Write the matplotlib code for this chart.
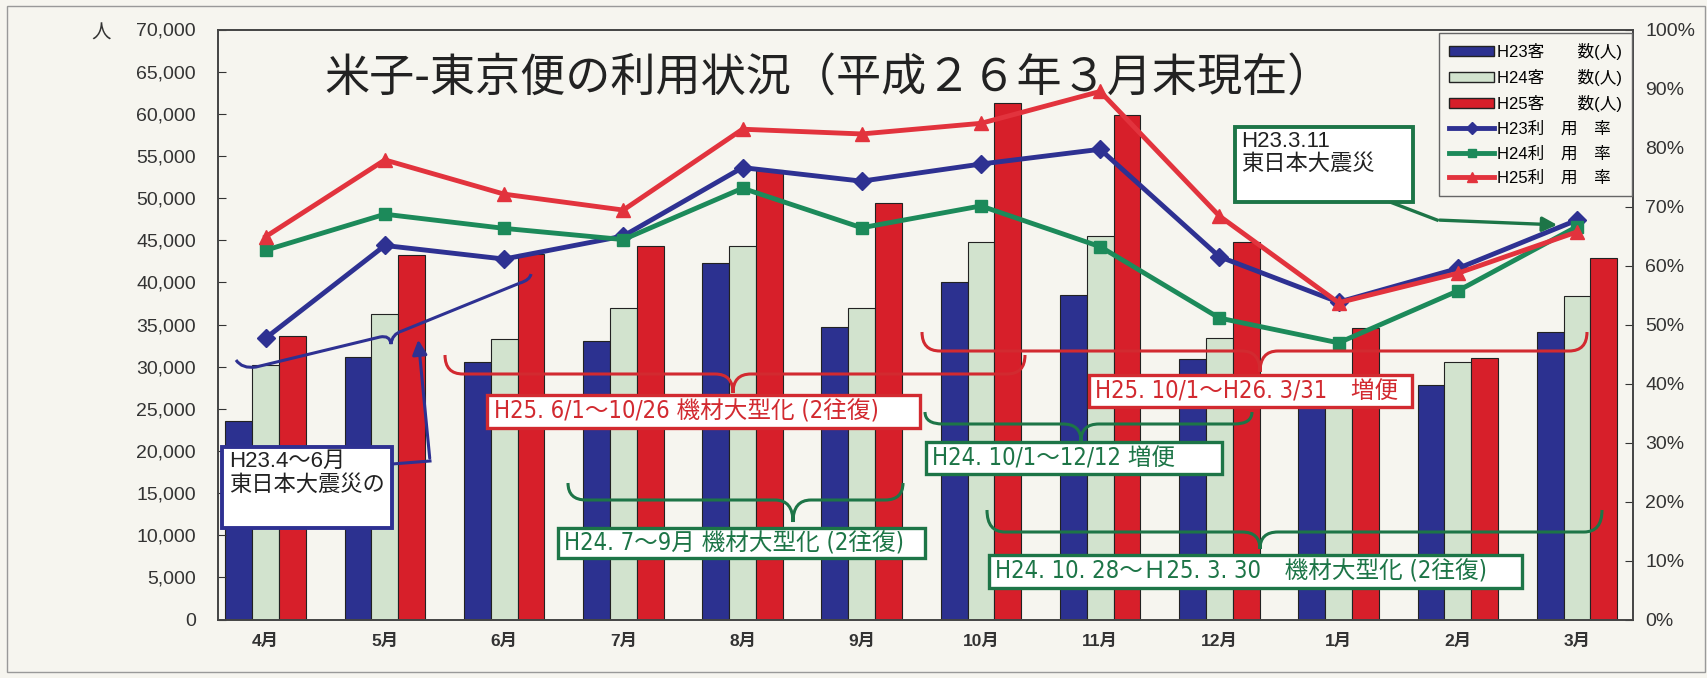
import numpy as np
import matplotlib
matplotlib.use("Agg")
import matplotlib.pyplot as plt
from matplotlib import font_manager
from matplotlib.patches import Rectangle, PathPatch, Patch, FancyArrowPatch
from matplotlib.path import Path
from matplotlib.lines import Line2D
from matplotlib.ticker import FuncFormatter, MultipleLocator

months = ["4月", "5月", "6月", "7月", "8月", "9月", "10月", "11月", "12月", "1月", "2月", "3月"]

# passengers (people)
h23_pax = [23500, 31100, 30600, 33100, 42300, 34750, 40000, 38500, 30900, 26500, 27800, 34150]
h24_pax = [30200, 36250, 33300, 37000, 44300, 37000, 44750, 45550, 33450, 29000, 30600, 38400]
h25_pax = [33600, 43250, 43400, 44350, 53300, 49400, 61300, 59900, 44750, 34550, 31000, 42950]

# load factor (%)
h23_rate = [47.7, 63.4, 61.1, 65.0, 76.6, 74.3, 77.2, 79.7, 61.5, 53.8, 59.5, 67.7]
h24_rate = [62.6, 68.7, 66.3, 64.4, 73.1, 66.4, 70.1, 63.2, 51.1, 46.9, 55.7, 66.6]
h25_rate = [64.9, 77.9, 72.1, 69.4, 83.1, 82.3, 84.1, 89.5, 68.4, 53.7, 58.7, 65.7]

title = "米子-東京便の利用状況（平成２６年３月末現在）"

PAPER = "#f6f5ef"
BAR23, BAR24, BAR25 = "#2c3190", "#d2e3ce", "#d71f2a"
LINE23, LINE24, LINE25 = "#2e3192", "#1c8a5a", "#e2333d"
RED_TXT, GREEN_TXT, NAVY = "#d22a30", "#1d7547", "#2e3192"

plt.rcParams["font.family"] = ["Liberation Sans", "Noto Sans CJK JP"]
CJK = ["Noto Sans CJK JP"]

# condensed latin for the period notes, if the condensed DejaVu face is there
has_cond = any(f.name == "DejaVu Sans" and f.stretch == "condensed"
               for f in font_manager.fontManager.ttflist)
NOTE = dict(family=["DejaVu Sans", "Noto Sans CJK JP"], fontstretch="condensed",
            fontsize=17 if has_cond else 15.5)

W, H = 1708, 678


def fxy(px, py):
    return (px / W, 1 - py / H)


fig = plt.figure(figsize=(W / 100, H / 100), dpi=100, facecolor=PAPER)
ax = fig.add_axes([218 / W, 1 - 619.6 / H, (1633 - 218) / W, (619.6 - 29.5) / H])
ax.set_facecolor(PAPER)
ax2 = ax.twinx()

x = np.arange(len(months))
bw = 0.225
ax.bar(x - bw, h23_pax, bw, color=BAR23, edgecolor="#222", lw=0.8)
ax.bar(x, h24_pax, bw, color=BAR24, edgecolor="#222", lw=0.8)
ax.bar(x + bw, h25_pax, bw, color=BAR25, edgecolor="#222", lw=0.8)
ax.set_xlim(-0.4, 11.47)
ax.set_ylim(0, 70000)
ax.yaxis.set_major_locator(MultipleLocator(5000))
ax.yaxis.set_major_formatter(FuncFormatter(lambda v, p: f"{int(v):,}"))
ax.set_xticks(x, months)
ax.tick_params(axis="x", length=0, pad=10, labelsize=12.5, colors="#333")
for t in ax.get_xticklabels():
    t.set_fontweight("bold")
ax.tick_params(axis="y", direction="in", length=6, pad=16, labelsize=14, colors="#333")

ax2.plot(x, h23_rate, color=LINE23, lw=3.5, marker="D", ms=9)
ax2.plot(x, h24_rate, color=LINE24, lw=3.5, marker="s", ms=9)
ax2.plot(x, h25_rate, color=LINE25, lw=3.5, marker="^", ms=10)
ax2.set_ylim(0, 100)
ax2.yaxis.set_major_locator(MultipleLocator(10))
ax2.yaxis.set_major_formatter(FuncFormatter(lambda v, p: f"{int(v)}%"))
ax2.tick_params(axis="y", direction="in", length=6, pad=9, labelsize=14, colors="#333")
for a in (ax, ax2):
    for s in a.spines.values():
        s.set_color("#444")
        s.set_linewidth(1.2)

handles = [
    Patch(facecolor=BAR23, edgecolor="#222"),
    Patch(facecolor=BAR24, edgecolor="#222"),
    Patch(facecolor=BAR25, edgecolor="#222"),
    Line2D([], [], color=LINE23, lw=3.5, marker="D", ms=6),
    Line2D([], [], color=LINE24, lw=3.5, marker="s", ms=6),
    Line2D([], [], color=LINE25, lw=3.5, marker="^", ms=7),
]
labels = ["H23客　　数(人)", "H24客　　数(人)", "H25客　　数(人)",
          "H23利　用　率", "H24利　用　率", "H25利　用　率"]
leg = ax2.legend(handles, labels, loc="upper right", bbox_to_anchor=fxy(1632, 33),
                 bbox_transform=fig.transFigure, borderaxespad=0, fancybox=False,
                 framealpha=1, edgecolor="#666", facecolor=PAPER, fontsize=12,
                 handlelength=2.7, handleheight=0.55, handletextpad=0.15,
                 labelspacing=0.55, borderpad=0.6)
leg.get_frame().set_linewidth(1.0)

fig.text(*fxy(829, 78), title, ha="center", va="center", fontsize=32.5, family=CJK, color="#222")
fig.text(*fxy(101, 33), "人", ha="center", va="center", fontsize=14, family=CJK, color="#333")


def box(x0, y0, x1, y1, color, lw=2.4):
    fig.add_artist(Rectangle(fxy(x0, y1), (x1 - x0) / W, (y1 - y0) / H, transform=fig.transFigure,
                             facecolor="white", edgecolor=color, lw=lw, zorder=4))


def brace(p0, p1, tip_u, depth, hook, color, r=18, lw=2.2):
    p0, p1 = np.array(p0, float), np.array(p1, float)
    L = np.linalg.norm(p1 - p0)
    d = (p1 - p0) / L
    n = np.array([-d[1], d[0]])
    local = [(0, -hook), (0, 0), (r, 0), (tip_u - r, 0), (tip_u, 0), (tip_u, depth),
             (tip_u, 0), (tip_u + r, 0), (L - r, 0), (L, 0), (L, -hook)]
    codes = [Path.MOVETO, Path.CURVE3, Path.CURVE3, Path.LINETO, Path.CURVE3, Path.CURVE3,
             Path.CURVE3, Path.CURVE3, Path.LINETO, Path.CURVE3, Path.CURVE3]
    verts = [fxy(*(p0 + u * d + v * n)) for u, v in local]
    fig.add_artist(PathPatch(Path(verts, codes), fill=False, edgecolor=color, lw=lw,
                             transform=fig.transFigure, zorder=3))


def pline(pts, color, lw=2.2):
    fpts = [fxy(*p) for p in pts]
    xs, ys = zip(*fpts[:-1])
    fig.add_artist(Line2D(xs, ys, color=color, lw=lw, transform=fig.transFigure, zorder=3))
    fig.add_artist(FancyArrowPatch(fpts[-2], fpts[-1], arrowstyle="-|>", mutation_scale=22,
                                   color=color, lw=lw, transform=fig.transFigure, zorder=3))


def note(px, py, s, color):
    fig.text(*fxy(px, py), s, color=color, va="center", zorder=5, **NOTE)


# red braces / boxes
brace((445, 374), (1025, 374), 288, 19, 19, RED_TXT)
brace((922, 351), (1587, 351), 338, 21, 19, RED_TXT)
box(487, 395, 920, 428, RED_TXT)
note(494, 412, "H25. 6/1～10/26 機材大型化 (2往復)", RED_TXT)
box(1089, 375, 1412, 407, RED_TXT)
note(1095, 391.5, "H25. 10/1～H26. 3/31　増便", RED_TXT)

# green braces / boxes
brace((925, 424), (1252, 424), 156, 17, 12, GREEN_TXT)
brace((568, 500), (903, 500), 225, 22, 17, GREEN_TXT)
brace((987, 532), (1602, 532), 273, 17, 22, GREEN_TXT)
box(926, 442, 1222, 474, GREEN_TXT)
note(932, 458.5, "H24. 10/1～12/12 増便", GREEN_TXT)
box(558, 528, 925, 558, GREEN_TXT)
note(564, 543.5, "H24. 7～9月 機材大型化 (2往復)", GREEN_TXT)
box(989, 555, 1522, 588, GREEN_TXT)
note(995, 572, "H24. 10. 28～Ｈ25. 3. 30　機材大型化 (2往復)", GREEN_TXT)

# blue (earthquake, H23.4-6)
blue_path = Path([fxy(236, 360), fxy(242, 369), fxy(256, 367), fxy(380, 337), fxy(390, 335),
                  fxy(391, 344), fxy(392, 334), fxy(402, 331), fxy(520, 283), fxy(530, 280),
                  fxy(531, 274)],
                 [Path.MOVETO, Path.CURVE3, Path.CURVE3, Path.LINETO, Path.CURVE3, Path.CURVE3,
                  Path.CURVE3, Path.CURVE3, Path.LINETO, Path.CURVE3, Path.CURVE3])
fig.add_artist(PathPatch(blue_path, fill=False, edgecolor=NAVY, lw=2.2, transform=fig.transFigure, zorder=3))
box(222, 447, 392, 528, NAVY, lw=2.8)
fig.text(*fxy(229, 451), "H23.4～6月\n東日本大震災の", fontsize=16, color="#222", va="top",
         linespacing=1.15, zorder=5)
pline([(392, 464), (430, 461), (418, 337)], NAVY)

# H23.3.11 box
box(1235, 127, 1413, 202, GREEN_TXT, lw=2.8)
fig.text(*fxy(1241, 131), "H23.3.11\n東日本大震災", fontsize=16, color="#222", va="top",
         linespacing=1.1, zorder=5)
pline([(1390, 202), (1437, 220), (1560, 225)], GREEN_TXT, lw=2.4)

# outer frame
fig.add_artist(Rectangle(fxy(7, 672), (1705 - 7) / W, (672 - 6) / H, transform=fig.transFigure,
                         fill=False, edgecolor="#999", lw=1.0))

fig.savefig("out.png", dpi=100, facecolor=PAPER)
